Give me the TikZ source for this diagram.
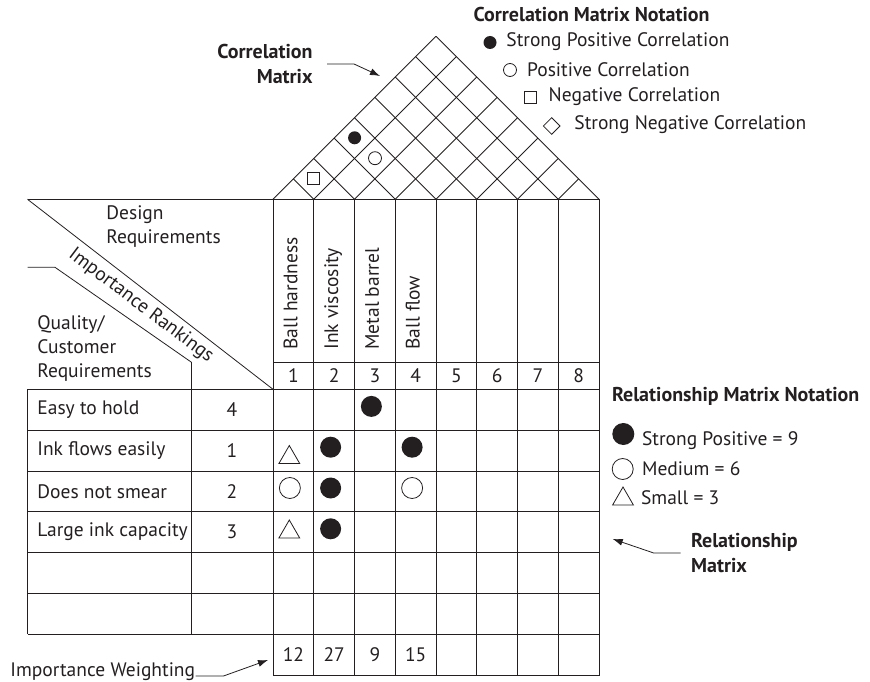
\documentclass[tikz,border=0pt]{standalone}
\usepackage{fontspec}
\setmainfont{PT Sans}
\usepackage{tikz}
\usetikzlibrary{positioning}
\usetikzlibrary{arrows.meta}
\usetikzlibrary{shapes.geometric}
\definecolor{ink}{RGB}{35, 31, 32}

\begin{document}
\begin{tikzpicture}
  [
    x = 1pt, y = -1pt,
    line width = 0.8pt,
    every node/.style = {inner sep=0pt, text=ink, font=\fontsize{19.5}{24}\selectfont},
    title/.style      = {font=\fontsize{20}{25}\selectfont\bfseries},
    rule/.style       = {draw=ink},
    pointer/.style    = {draw=ink, -{Latex[length=10pt,width=7pt]}},
    strong/.style     = {circle, fill=ink, minimum size=21pt},
    medium/.style     = {circle, draw=ink, minimum size=21pt},
    weak/.style       = {regular polygon, regular polygon sides=3, draw=ink, minimum size=24pt},
    cstrong/.style    = {circle, fill=ink, minimum size=13pt},
    cpos/.style       = {circle, draw=ink, minimum size=13pt},
    cneg/.style       = {rectangle, draw=ink, minimum size=12pt},
    cstrneg/.style    = {diamond, draw=ink, minimum size=17pt}
  ]
  \useasboundingbox (0,0) rectangle (870,682);

  % roof and columns
  \foreach \i in {0,...,8} {
    \pgfmathsetmacro{\xb}{273+40.75*\i}
    \draw[rule] (\xb,199.3) -- ({(599+\xb)/2},{199.3-(599-\xb)/2});
    \draw[rule] (\xb,199.3) -- ({(273+\xb)/2},{199.3-(\xb-273)/2});
    \draw[rule] (\xb,199.3) -- (\xb,675.5);
  }

  % rows
  \draw[rule] (27.5,199.3) -- (599,199.3);
  \draw[rule] (273,362.3) -- (599,362.3);
  \foreach \r in {0,...,6}
    \draw[rule] (27.5,{389.3+40.8*\r}) -- (599,{389.3+40.8*\r});
  \draw[rule] (273,675.5) -- (599,675.5);
  \draw[rule] (27.5,389.3) -- (27.5,634.1);
  \draw[rule] (191.5,362.3) -- (191.5,634.1);

  % corner of the house
  \draw[rule] (27.5,199.3) -- (273,389.3);
  \draw[rule] (27.5,267.3) -- (55,267.3) -- (191.5,362.3);

  \node[anchor=west, align=left] (design) at (106,227) {Design\\Requirements};
  \node[anchor=west, align=left] (quality) at (37,349) {Quality/\\Customer\\Requirements};
  \node[rotate=-37] (rankings) at (141,306) {Importance Rankings};

  % design requirements
  \foreach \t [count=\c] in {Ball hardness, Ink viscosity, Metal barrel, Ball flow}
    \node[rotate=90, anchor=base west] (dr\c) at ({273+40.75*(\c-0.5)+4},350) {\t};
  \foreach \c in {1,...,8}
    \node (num\c) at ({273+40.75*(\c-0.5)},376) {\c};

  % customer requirements
  \foreach \t/\k [count=\r] in {Easy to hold/4, Ink flows easily/1, Does not smear/2, Large ink capacity/3} {
    \node[anchor=west] (req\r) at (37,{389.3+40.8*(\r-0.5)}) {\t};
    \node (rank\r) at (232,{389.3+40.8*(\r-0.5)}) {\k};
  }

  % relationship matrix
  \foreach \s/\r/\c in {strong/1/3, strong/2/2, strong/2/4, medium/3/1, strong/3/2, medium/3/4, strong/4/2}
    \node[\s] (rel\r\c) at ({273+40.75*(\c-0.5)-3.5},{389.3+40.8*(\r-0.5)-3.3}) {};
  \node[weak] (rel21) at (289.3,457.5) {};
  \node[weak] (rel41) at (289.3,532) {};

  % correlation matrix
  \node[cneg] (cor12) at (313.8,178.6) {};
  \node[cpos] (cor24) at (375,158.2) {};
  \node[cstrong] (cor14) at (354.6,137.8) {};

  % importance weighting
  \foreach \w [count=\c] in {12,27,9,15}
    \node (wt\c) at ({273+40.75*(\c-0.5)},654.5) {\w};

  % correlation notation
  \node[title, anchor=west] (cnote) at (473.3,15) {Correlation Matrix Notation};
  \node[cstrong] (csym1) at (490,42.5) {};
  \node[anchor=west] (ctxt1) at (506,42) {Strong Positive Correlation};
  \node[cpos] (csym2) at (510,70) {};
  \node[anchor=west] (ctxt2) at (526.7,70) {Positive Correlation};
  \node[cneg] (csym3) at (530.3,97.5) {};
  \node[anchor=west] (ctxt3) at (548.3,97) {Negative Correlation};
  \node[cstrneg] (csym4) at (551.7,126) {};
  \node[anchor=west] (ctxt4) at (574,125) {Strong Negative Correlation};

  % relationship notation
  \node[title, anchor=west] (rnote) at (611.7,396.7) {Relationship Matrix Notation};
  \node[strong, minimum size=22pt] (rsym1) at (623.3,434) {};
  \node[anchor=west] (rtxt1) at (641.7,441) {Strong Positive = 9};
  \node[medium] (rsym2) at (622.7,469) {};
  \node[anchor=west] (rtxt2) at (641.7,468.3) {Medium = 6};
  \node[weak] (rsym3) at (623,499) {};
  \node[anchor=west] (rtxt3) at (640.7,498) {Small = 3};

  % callouts
  \node[title, anchor=east, align=right] (cmlabel) at (313,64) {Correlation\\Matrix};
  \coordinate (cmtip) at (380,76);
  \draw[pointer] ([xshift=14]cmlabel.east) -- ++(27,0) -- (cmtip);

  \node[title, anchor=west, align=left] (rmlabel) at (690.7,553) {Relationship\\Matrix};
  \coordinate (rmtip) at (612.7,539);
  \draw[pointer] ([xshift=-10]rmlabel.west) -- ++(-27,0) -- (rmtip);

  \node[anchor=base west] (iwlabel) at (10,676) {Importance Weighting};
  \coordinate (iwtip) at (268,660);
  \draw[pointer] (iwlabel.base east) -- ++(28,0) -- (iwtip);
\end{tikzpicture}
\end{document}
